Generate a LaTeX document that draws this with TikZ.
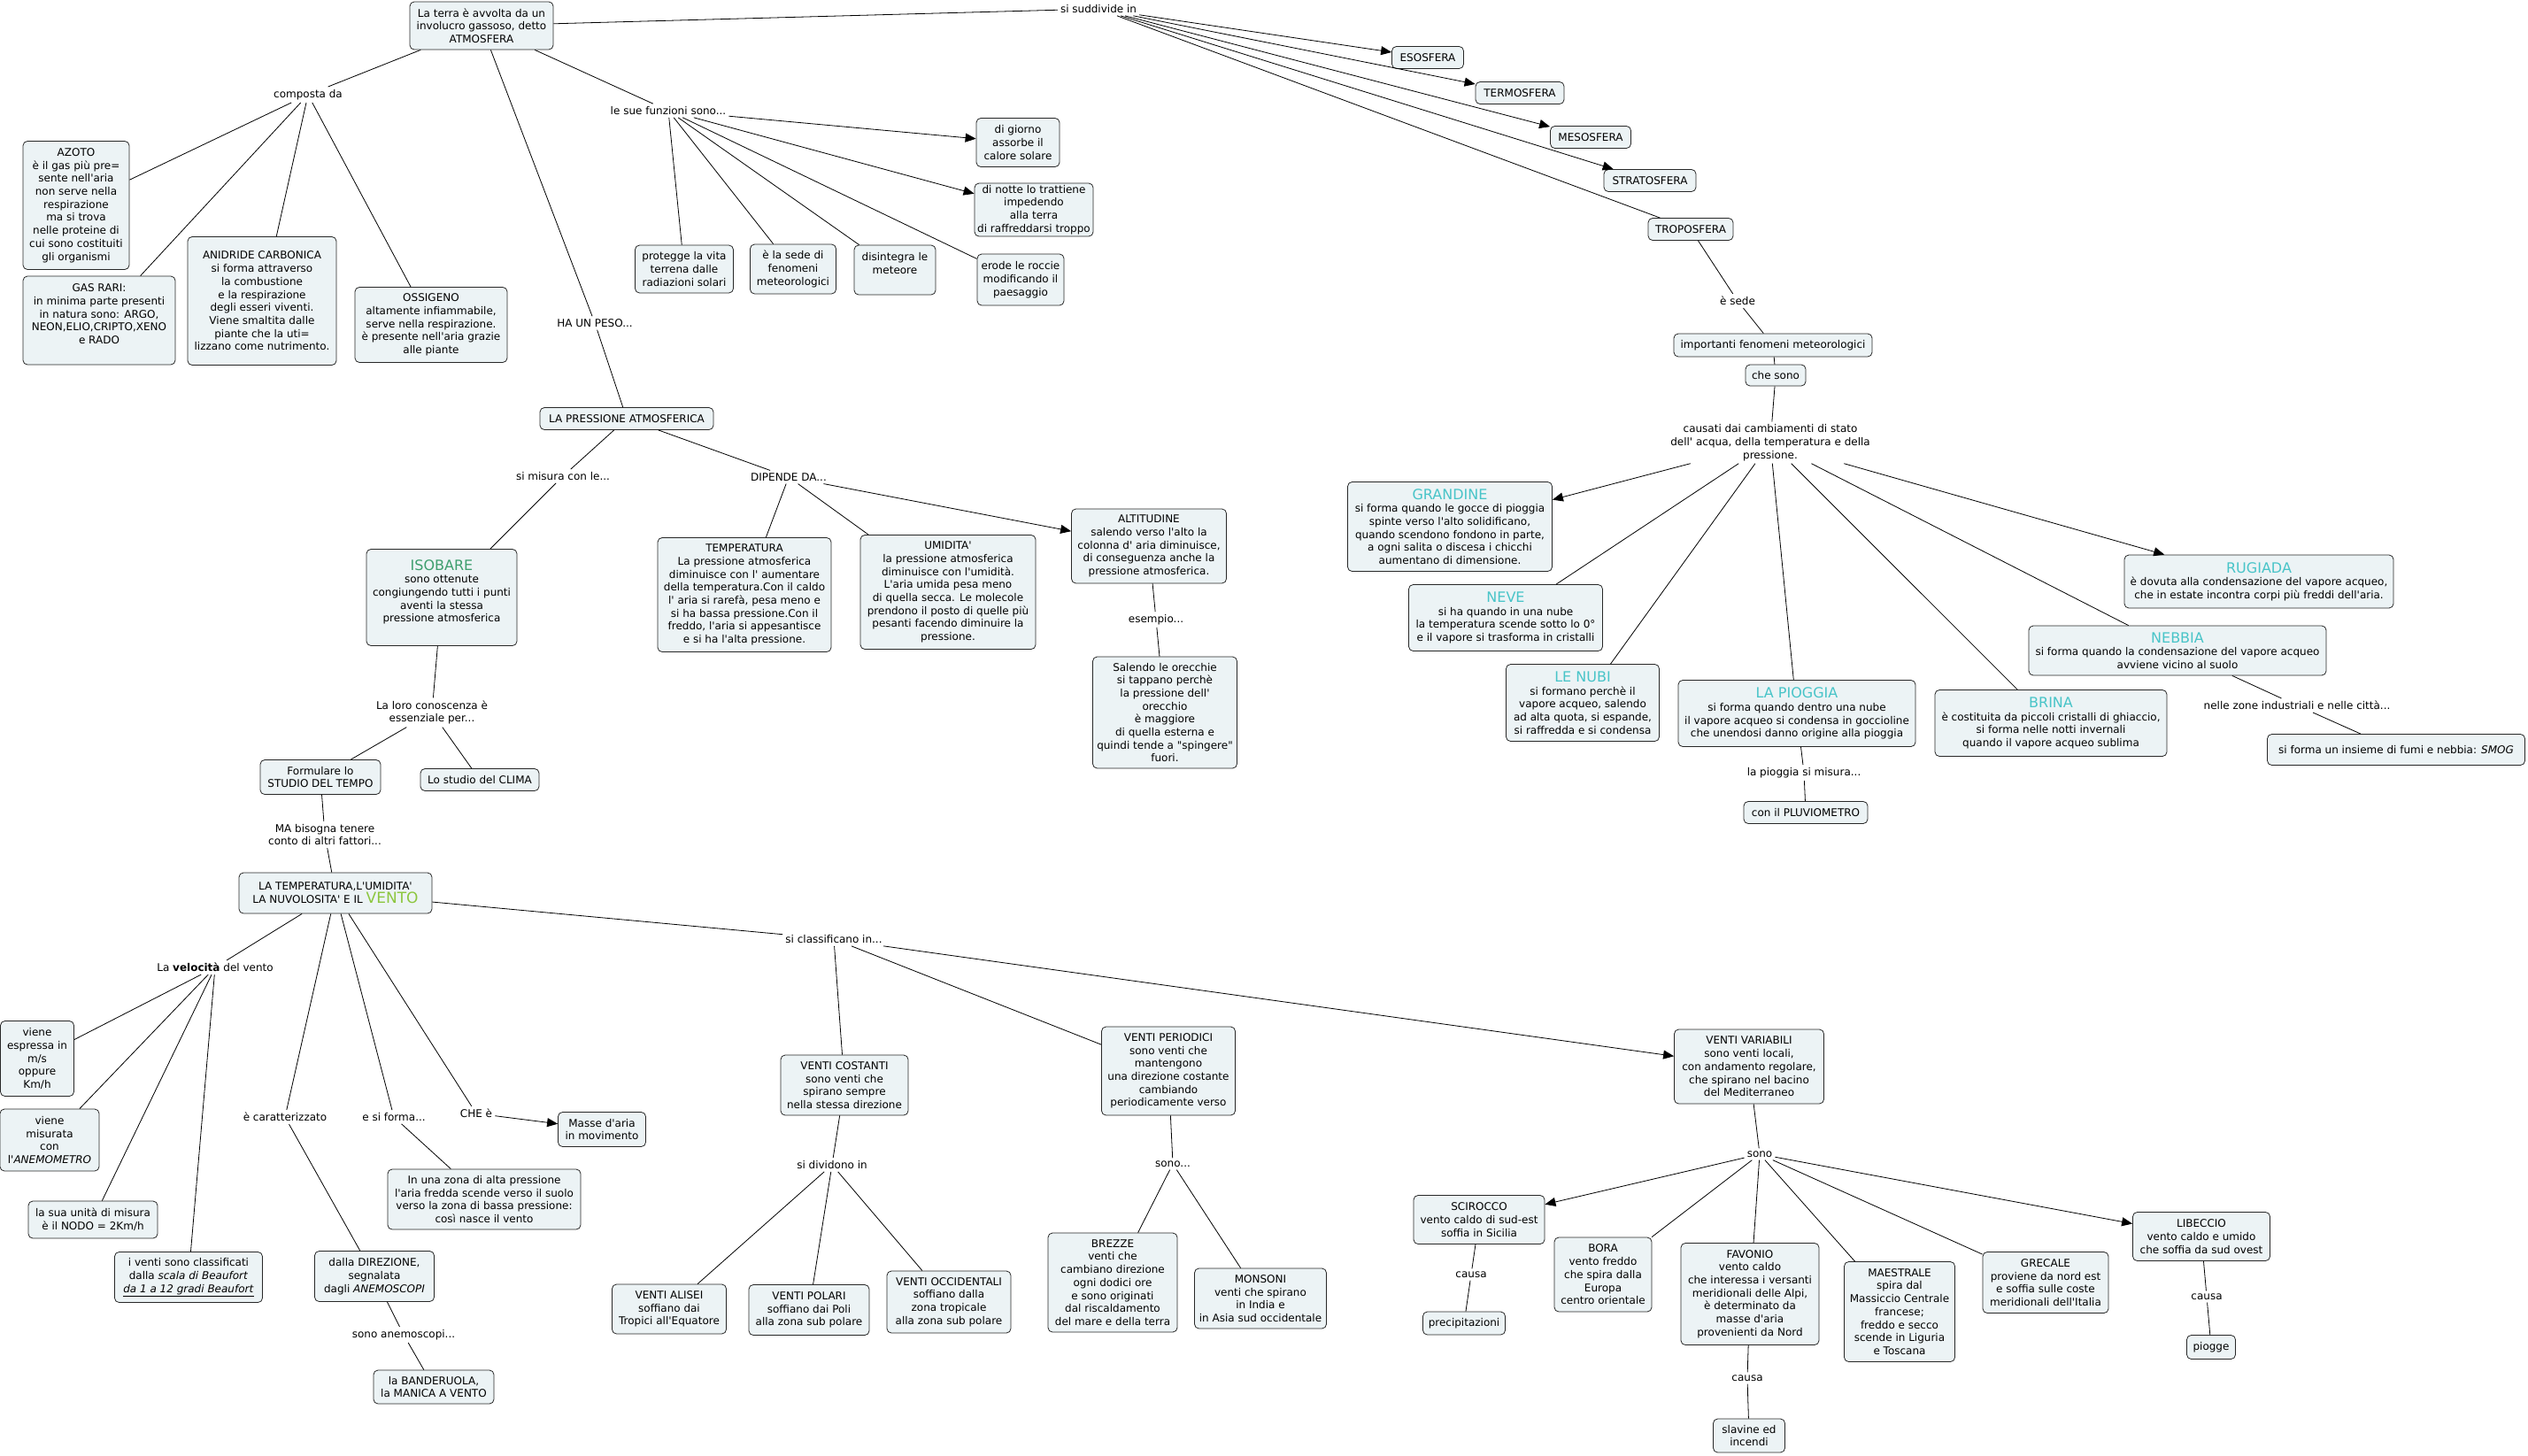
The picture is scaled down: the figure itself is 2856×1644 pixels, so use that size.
\documentclass[tikz,border=0pt]{standalone}
\usepackage{fontspec}
\setmainfont{DejaVu Sans}[Ligatures=TeXOff]
\usetikzlibrary{arrows.meta}
\definecolor{boxfill}{RGB}{236,243,245}
\definecolor{boxdraw}{RGB}{40,40,40}
\definecolor{isog}{RGB}{62,158,110}
\definecolor{cyant}{RGB}{72,196,200}
\definecolor{ventog}{RGB}{140,198,62}
\newcommand{\fs}{\fontsize{12}{14.7}\selectfont}
\newcommand{\ttl}[2]{{\fontsize{16}{18}\selectfont\color{#1}#2}}
\begin{document}
\begin{tikzpicture}[x=1pt,y=-1pt,
  box/.style={draw=boxdraw, fill=boxfill, rounded corners=5pt, align=center, inner sep=2pt, font=\fs, line width=0.8pt},
  lab/.style={align=center, inner sep=3pt, font=\fs},
  ln/.style={draw=black, line width=0.8pt},
  arr/.style={draw=black, line width=0.8pt, -{Triangle[length=12pt,width=10pt]}}]
\useasboundingbox[fill=white] (0,0) rectangle (2856,1644);

% ---- top
\node[box, minimum width=162pt, minimum height=54pt] (root) at (544,29) {La terra è avvolta da un\\involucro gassoso, detto\\ATMOSFERA};
\node[lab] (composta) at (348,107) {composta da};
\node[box, minimum width=120pt, minimum height=145pt] (azoto) at (86,232) {AZOTO\\è il gas più pre=\\sente nell'aria\\non serve nella\\respirazione\\ma si trova\\nelle proteine di\\cui sono costituiti\\gli organismi};
\node[box, minimum width=172pt, minimum height=100pt] (gasrari) at (112,362) {GAS RARI:\\in minima parte presenti\\in natura sono: ARGO,\\NEON,ELIO,CRIPTO,XENO\\e RADO\\ \mbox{}};
\node[box, minimum width=168pt, minimum height=145pt] (anidride) at (296,340) {ANIDRIDE CARBONICA\\si forma attraverso\\la combustione\\e la respirazione\\degli esseri viventi.\\Viene smaltita dalle\\piante che la uti=\\lizzano come nutrimento.};
\node[box, minimum width=172pt, minimum height=85pt] (ossigeno) at (487,367) {OSSIGENO\\altamente infiammabile,\\serve nella respirazione.\\è presente nell'aria grazie\\alle piante};

\node[lab] (funzioni) at (755,125) {le sue funzioni sono...};
\node[box, minimum width=94pt, minimum height=55pt] (giorno) at (1150,161) {di giorno\\assorbe il\\calore solare};
\node[box, minimum width=134pt, minimum height=60pt] (notte) at (1168,237) {di notte lo trattiene\\impedendo\\alla terra\\di raffreddarsi troppo};
\node[box, minimum width=111pt, minimum height=54pt] (protegge) at (773,304) {protegge la vita\\terrena dalle\\radiazioni solari};
\node[box, minimum width=97pt, minimum height=56pt] (sede) at (896,304) {è la sede di\\fenomeni\\meteorologici};
\node[box, minimum width=92pt, minimum height=56pt] (disintegra) at (1011,305) {disintegra le\\meteore\\ \mbox{}};
\node[box, minimum width=98pt, minimum height=58pt] (erode) at (1153,316) {erode le roccie\\modificando il\\paesaggio};

\node[lab] (peso) at (672,365) {HA UN PESO...};
\node[box, minimum width=196pt, minimum height=25pt] (pressione) at (708,473) {LA PRESSIONE ATMOSFERICA};
\node[lab] (misura) at (636,538) {si misura con le...};
\node[lab] (dipende) at (891,539) {DIPENDE DA...};
\node[box, minimum width=170pt, minimum height=109pt] (isobare) at (499,675) {\ttl{isog}{ISOBARE}\\sono ottenute\\congiungendo tutti i punti\\aventi la stessa\\pressione atmosferica\\ \mbox{}};
\node[box, minimum width=196pt, minimum height=129pt] (temperatura) at (841,672) {TEMPERATURA\\La pressione atmosferica\\diminuisce con l' aumentare\\della temperatura.Con il caldo\\l' aria si rarefà, pesa meno e\\si ha bassa pressione.Con il\\freddo, l'aria si appesantisce\\e si ha l'alta pressione.};
\node[box, minimum width=198pt, minimum height=129pt] (umidita) at (1071,669) {UMIDITA'\\la pressione atmosferica\\diminuisce con l'umidità.\\L'aria umida pesa meno\\di quella secca. Le molecole\\prendono il posto di quelle più\\pesanti facendo diminuire la\\pressione.};
\node[box, minimum width=175pt, minimum height=84pt] (altitudine) at (1298,617) {ALTITUDINE\\salendo verso l'alto la\\colonna d' aria diminuisce,\\di conseguenza anche la\\pressione atmosferica.};
\node[lab] (esempio) at (1306,700) {esempio...};
\node[box, minimum width=163pt, minimum height=126pt] (salendo) at (1316,805) {Salendo le orecchie\\si tappano perchè\\la pressione dell'\\orecchio\\è maggiore\\di quella esterna e\\quindi tende a "spingere"\\fuori.};

\node[lab] (laloro) at (488,805) {La loro conoscenza è\\essenziale per...};
\node[box, minimum width=136pt, minimum height=39pt] (formulare) at (362,878) {Formulare lo\\STUDIO DEL TEMPO};
\node[box, minimum width=134pt, minimum height=25pt] (clima) at (542,881) {Lo studio del CLIMA};
\node[lab] (mabisogna) at (367,943) {MA bisogna tenere\\conto di altri fattori...};
\node[box, minimum width=218pt, minimum height=46pt] (vento) at (379,1009) {LA TEMPERATURA,L'UMIDITA'\\LA NUVOLOSITA' E IL {\fontsize{17}{17}\selectfont\color{ventog}VENTO}};
\node[lab] (velocita) at (243,1093) {La \textbf{velocità} del vento};
\node[box, minimum width=83pt, minimum height=85pt] (espressa) at (42,1196) {viene\\espressa in\\m/s\\oppure\\Km/h};
\node[box, minimum width=112pt, minimum height=70pt] (misurata) at (56,1288) {viene\\misurata\\con\\l'\textit{ANEMOMETRO}};
\node[box, minimum width=146pt, minimum height=42pt] (unita) at (105,1378) {la sua unità di misura\\è il NODO = 2Km/h};
\node[box, minimum width=167pt, minimum height=57pt] (classificati) at (213,1443) {i venti sono classificati\\dalla \textit{scala di Beaufort}\\\underline{\textit{da 1 a 12 gradi Beaufort}}};
\node[lab] (caratt) at (322,1262) {è caratterizzato};
\node[lab] (siforma) at (445,1262) {e si forma...};
\node[lab] (chee) at (538,1258) {CHE è};
\node[box, minimum width=99pt, minimum height=39pt] (masse) at (680,1276) {Masse d'aria\\in movimento};
\node[box, minimum width=218pt, minimum height=68pt] (zona) at (547,1355) {In una zona di alta pressione\\l'aria fredda scende verso il suolo\\verso la zona di bassa pressione:\\così nasce il vento};
\node[box, minimum width=135pt, minimum height=57pt] (direzione) at (423,1442) {dalla DIREZIONE,\\segnalata\\dagli \textit{ANEMOSCOPI}};
\node[lab] (anemoscopi) at (456,1508) {sono anemoscopi...};
\node[box, minimum width=136pt, minimum height=38pt] (banderuola) at (490,1567) {la BANDERUOLA,\\la MANICA A VENTO};

\node[lab] (classificano) at (942,1061) {si classificano in...};
\node[box, minimum width=144pt, minimum height=68pt] (costanti) at (954,1226) {VENTI COSTANTI\\sono venti che\\spirano sempre\\nella stessa direzione};
\node[box, minimum width=151pt, minimum height=100pt] (periodici) at (1320,1210) {VENTI PERIODICI\\sono venti che\\mantengono\\una direzione costante\\cambiando\\periodicamente verso};
\node[lab] (dividono) at (940,1316) {si dividono in};
\node[lab] (sonop) at (1325,1315) {sono...};
\node[box, minimum width=129pt, minimum height=56pt] (alisei) at (756,1479) {VENTI ALISEI\\soffiano dai\\Tropici all'Equatore};
\node[box, minimum width=136pt, minimum height=57pt] (polari) at (914,1480) {VENTI POLARI\\soffiano dai Poli\\alla zona sub polare};
\node[box, minimum width=140pt, minimum height=70pt] (occidentali) at (1072,1471) {VENTI OCCIDENTALI\\soffiano dalla\\zona tropicale\\alla zona sub polare};
\node[box, minimum width=146pt, minimum height=112pt] (brezze) at (1257,1449) {BREZZE\\venti che\\cambiano direzione\\ogni dodici ore\\e sono originati\\dal riscaldamento\\del mare e della terra};
\node[box, minimum width=149pt, minimum height=68pt] (monsoni) at (1424,1467) {MONSONI\\venti che spirano\\in India e\\in Asia sud occidentale};

\node[box, minimum width=169pt, minimum height=84pt] (variabili) at (1976,1205) {VENTI VARIABILI\\sono venti locali,\\con andamento regolare,\\che spirano nel bacino\\del Mediterraneo};
\node[lab] (sonov) at (1988,1304) {sono};
\node[box, minimum width=148pt, minimum height=55pt] (scirocco) at (1671,1378) {SCIROCCO\\vento caldo di sud-est\\soffia in Sicilia};
\node[box, minimum width=110pt, minimum height=84pt] (bora) at (1811,1440) {BORA\\vento freddo\\che spira dalla\\Europa\\centro orientale};
\node[box, minimum width=156pt, minimum height=115pt] (favonio) at (1977,1462) {FAVONIO\\vento caldo\\che interessa i versanti\\meridionali delle Alpi,\\è determinato da\\masse d'aria\\provenienti da Nord};
\node[box, minimum width=125pt, minimum height=113pt] (maestrale) at (2146,1482) {MAESTRALE\\spira dal\\Massiccio Centrale\\francese;\\freddo e secco\\scende in Liguria\\e Toscana};
\node[box, minimum width=142pt, minimum height=69pt] (grecale) at (2311,1449) {GRECALE\\proviene da nord est\\e soffia sulle coste\\meridionali dell'Italia};
\node[box, minimum width=155pt, minimum height=55pt] (libeccio) at (2487,1397) {LIBECCIO\\vento caldo e umido\\che soffia da sud ovest};
\node[lab] (causaa) at (1662,1440) {causa};
\node[box, minimum width=93pt, minimum height=26pt] (precip) at (1654,1495) {precipitazioni};
\node[lab] (causab) at (1974,1557) {causa};
\node[box, minimum width=81pt, minimum height=38pt] (slavine) at (1976,1622) {slavine ed\\incendi};
\node[lab] (causac) at (2493,1465) {causa};
\node[box, minimum width=55pt, minimum height=27pt] (piogge) at (2498,1522) {piogge};

% ---- right
\node[lab] (suddivide) at (1241,10) {si suddivide in};
\node[box, minimum width=81pt, minimum height=25pt] (eso) at (1613,65) {ESOSFERA};
\node[box, minimum width=100pt, minimum height=25pt] (termo) at (1717,105) {TERMOSFERA};
\node[box, minimum width=91pt, minimum height=25pt] (meso) at (1797,155) {MESOSFERA};
\node[box, minimum width=104pt, minimum height=25pt] (strato) at (1864,204) {STRATOSFERA};
\node[box, minimum width=96pt, minimum height=25pt] (tropo) at (1910,259) {TROPOSFERA};
\node[lab] (esede) at (1963,340) {è sede};
\node[box, minimum width=224pt, minimum height=26pt] (importanti) at (2003,390) {importanti fenomeni meteorologici};
\node[box, minimum width=68pt, minimum height=24pt] (chesono) at (2006,424) {che sono};
\node[lab] (causati) at (2000,500) {causati dai cambiamenti di stato\\dell' acqua, della temperatura e della\\pressione.};
\node[box, minimum width=231pt, minimum height=101pt] (grandine) at (1638,595) {\ttl{cyant}{GRANDINE}\\si forma quando le gocce di pioggia\\spinte verso l'alto solidificano,\\quando scendono fondono in parte,\\a ogni salita o discesa i chicchi\\aumentano di dimensione.};
\node[box, minimum width=219pt, minimum height=75pt] (neve) at (1701,698) {\ttl{cyant}{NEVE}\\si ha quando in una nube\\la temperatura scende sotto lo 0°\\e il vapore si trasforma in cristalli};
\node[box, minimum width=173pt, minimum height=87pt] (nubi) at (1788,794) {\ttl{cyant}{LE NUBI}\\si formano perchè il\\vapore acqueo, salendo\\ad alta quota, si espande,\\si raffredda e si condensa};
\node[box, minimum width=268pt, minimum height=75pt] (pioggia) at (2030,806) {\ttl{cyant}{LA PIOGGIA}\\si forma quando dentro una nube\\il vapore acqueo si condensa in goccioline\\che unendosi danno origine alla pioggia};
\node[lab] (misurap) at (2038,873) {la pioggia si misura...};
\node[box, minimum width=140pt, minimum height=25pt] (pluvio) at (2040,918) {con il PLUVIOMETRO};
\node[box, minimum width=262pt, minimum height=75pt] (brina) at (2317,817) {\ttl{cyant}{BRINA}\\è costituita da piccoli cristalli di ghiaccio,\\si forma nelle notti invernali\\quando il vapore acqueo sublima};
\node[box, minimum width=336pt, minimum height=56pt] (nebbia) at (2460,735) {\ttl{cyant}{NEBBIA}\\si forma quando la condensazione del vapore acqueo\\avviene vicino al suolo};
\node[box, minimum width=304pt, minimum height=60pt] (rugiada) at (2552,657) {\ttl{cyant}{RUGIADA}\\è dovuta alla condensazione del vapore acqueo,\\che in estate incontra corpi più freddi dell'aria.};
\node[lab] (zone) at (2595,797) {nelle zone industriali e nelle città...};
\node[box, minimum width=291pt, minimum height=35pt] (smog) at (2707,847) {si forma un insieme di fumi e nebbia: \textit{SMOG}};

% ---- connectors
\draw[ln] (root) -- (suddivide);
\draw[arr] (suddivide) -- (eso);
\draw[arr] (suddivide) -- (termo);
\draw[arr] (suddivide) -- (meso);
\draw[arr] (suddivide) -- (strato);
\draw[ln] (suddivide) -- (tropo);
\draw[ln] (root) -- (composta);
\draw[ln] (composta) -- (azoto);
\draw[ln] (composta) -- (gasrari);
\draw[ln] (composta) -- (anidride);
\draw[ln] (composta) -- (ossigeno);
\draw[ln] (root) -- (funzioni);
\draw[arr] (funzioni) -- (giorno);
\draw[arr] (funzioni) -- (notte);
\draw[ln] (funzioni) -- (protegge);
\draw[ln] (funzioni) -- (sede);
\draw[ln] (funzioni) -- (disintegra);
\draw[ln] (funzioni) -- (erode);
\draw[ln] (root) -- (peso);
\draw[ln] (peso) -- (pressione);
\draw[ln] (pressione) -- (misura);
\draw[ln] (misura) -- (isobare);
\draw[ln] (pressione) -- (dipende);
\draw[ln] (dipende) -- (temperatura);
\draw[ln] (dipende) -- (umidita);
\draw[arr] (dipende) -- (altitudine);
\draw[ln] (altitudine) -- (esempio);
\draw[ln] (esempio) -- (salendo);
\draw[ln] (isobare) -- (laloro);
\draw[ln] (laloro) -- (formulare);
\draw[ln] (laloro) -- (clima);
\draw[ln] (formulare) -- (mabisogna);
\draw[ln] (mabisogna) -- (vento);
\draw[ln] (vento) -- (velocita);
\draw[ln] (velocita) -- (espressa);
\draw[ln] (velocita) -- (misurata);
\draw[ln] (velocita) -- (unita);
\draw[ln] (velocita) -- (classificati);
\draw[ln] (vento) -- (caratt);
\draw[ln] (caratt) -- (direzione);
\draw[ln] (direzione) -- (anemoscopi);
\draw[ln] (anemoscopi) -- (banderuola);
\draw[ln] (vento) -- (siforma);
\draw[ln] (siforma) -- (zona);
\draw[ln] (vento) -- (chee);
\draw[arr] (chee) -- (masse);
\draw[ln] (vento) -- (classificano);
\draw[ln] (classificano) -- (costanti);
\draw[ln] (classificano) -- (periodici);
\draw[arr] (classificano) -- (variabili);
\draw[ln] (costanti) -- (dividono);
\draw[ln] (dividono) -- (alisei);
\draw[ln] (dividono) -- (polari);
\draw[ln] (dividono) -- (occidentali);
\draw[ln] (periodici) -- (sonop);
\draw[ln] (sonop) -- (brezze);
\draw[ln] (sonop) -- (monsoni);
\draw[ln] (variabili) -- (sonov);
\draw[arr] (sonov) -- (scirocco);
\draw[ln] (sonov) -- (bora);
\draw[ln] (sonov) -- (favonio);
\draw[ln] (sonov) -- (maestrale);
\draw[ln] (sonov) -- (grecale);
\draw[arr] (sonov) -- (libeccio);
\draw[ln] (scirocco) -- (causaa);
\draw[ln] (causaa) -- (precip);
\draw[ln] (favonio) -- (causab);
\draw[ln] (causab) -- (slavine);
\draw[ln] (libeccio) -- (causac);
\draw[ln] (causac) -- (piogge);
\draw[ln] (tropo) -- (esede);
\draw[ln] (esede) -- (importanti);
\draw[ln] (importanti) -- (chesono);
\draw[ln] (chesono) -- (causati);
\draw[arr] (causati) -- (grandine);
\draw[ln] (causati) -- (neve);
\draw[ln] (causati) -- (nubi);
\draw[ln] (causati) -- (pioggia);
\draw[ln] (causati) -- (brina);
\draw[ln] (causati) -- (nebbia);
\draw[arr] (causati) -- (rugiada);
\draw[ln] (pioggia) -- (misurap);
\draw[ln] (misurap) -- (pluvio);
\draw[ln] (nebbia) -- (zone);
\draw[ln] (zone) -- (smog);
\end{tikzpicture}
\end{document}
